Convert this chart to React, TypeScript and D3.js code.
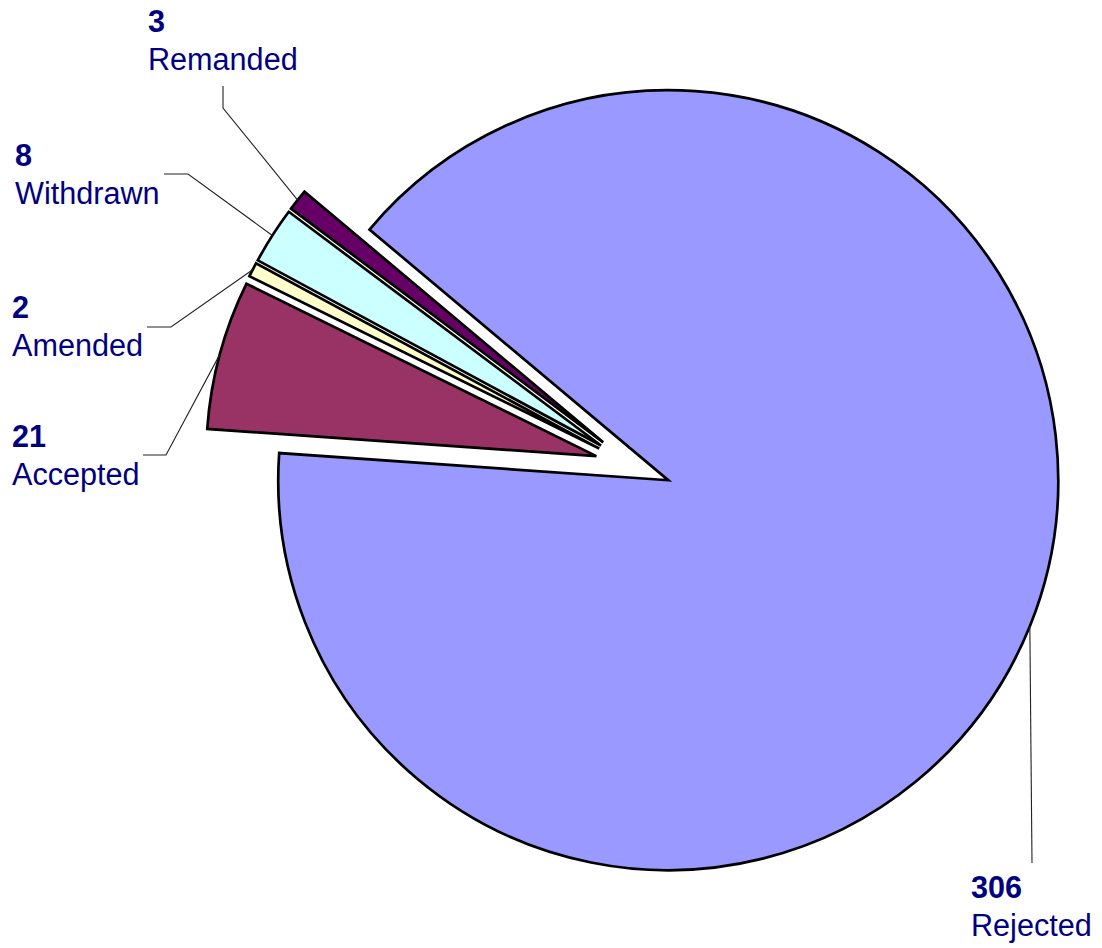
import React from "react";
import * as d3 from "d3";

const categories = ["Rejected", "Accepted", "Amended", "Withdrawn", "Remanded"];
const values = [306, 21, 2, 8, 3];
const colors = ["#9999FF", "#993366", "#FFFFCC", "#CCFFFF", "#660066"];

// layout (not data)
const W = 1102;
const H = 948;
const CX = 633;
const CY = 466;
const R = 390;
const EXPLODE = 38;
const START_DEG = -50;
const FONT = 30.6;
const LINE_GAP = 37.5;
const labelLayout = [
  { x: 971, y: 898, start: [1032, 863], elbow: null },
  { x: 12, y: 447, start: [143, 455], elbow: [166, 455] },
  { x: 12, y: 318, start: [147, 327], elbow: [171, 327] },
  { x: 15, y: 166, start: [164, 174], elbow: [188, 174] },
  { x: 148, y: 32, start: [223, 86], elbow: [223, 108] },
];

export default function App() {
  const start = (START_DEG * Math.PI) / 180;
  const pie = d3
    .pie<number>()
    .sort(null)
    .value((d) => d)
    .startAngle(start)
    .endAngle(start + 2 * Math.PI);
  const arcs = pie(values);
  const arcGen = d3.arc<d3.PieArcDatum<number>>().innerRadius(0).outerRadius(R);

  const items = arcs.map((a, i) => {
    const mid = (a.startAngle + a.endAngle) / 2;
    const dx = Math.sin(mid) * EXPLODE;
    const dy = -Math.cos(mid) * EXPLODE;
    const tipX = CX + dx;
    const tipY = CY + dy;
    const edgeX = tipX + Math.sin(mid) * R;
    const edgeY = tipY - Math.cos(mid) * R;
    return { a, i, tipX, tipY, edgeX, edgeY };
  });

  return (
    <svg
      width={W}
      height={H}
      style={{ position: "absolute", left: 0, top: 0, display: "block", background: "#fff" }}
      fontFamily="'Liberation Sans', Arial, sans-serif"
    >
      <rect x={0} y={0} width={W} height={H} fill="#fff" />
      {items.map(({ a, i, tipX, tipY }) => (
        <path
          key={categories[i]}
          d={arcGen(a) || ""}
          transform={`translate(${tipX},${tipY})`}
          fill={colors[i]}
          stroke="#000"
          strokeWidth={2.7}
          strokeLinejoin="miter"
        />
      ))}
      {items.map(({ i, edgeX, edgeY }) => {
        const L = labelLayout[i];
        const pts: [number, number][] = [L.start as [number, number]];
        if (L.elbow) pts.push(L.elbow as [number, number]);
        pts.push([edgeX, edgeY]);
        const line = d3.line()(pts) || "";
        return (
          <path key={"l" + i} d={line} fill="none" stroke="#222" strokeWidth={1.1} />
        );
      })}
      {items.map(({ i }) => {
        const L = labelLayout[i];
        return (
          <g key={"t" + i} fill="#000080" fontSize={FONT}>
            <text x={L.x} y={L.y} fontWeight="bold">
              {values[i]}
            </text>
            <text x={L.x} y={L.y + LINE_GAP}>
              {categories[i]}
            </text>
          </g>
        );
      })}
    </svg>
  );
}
